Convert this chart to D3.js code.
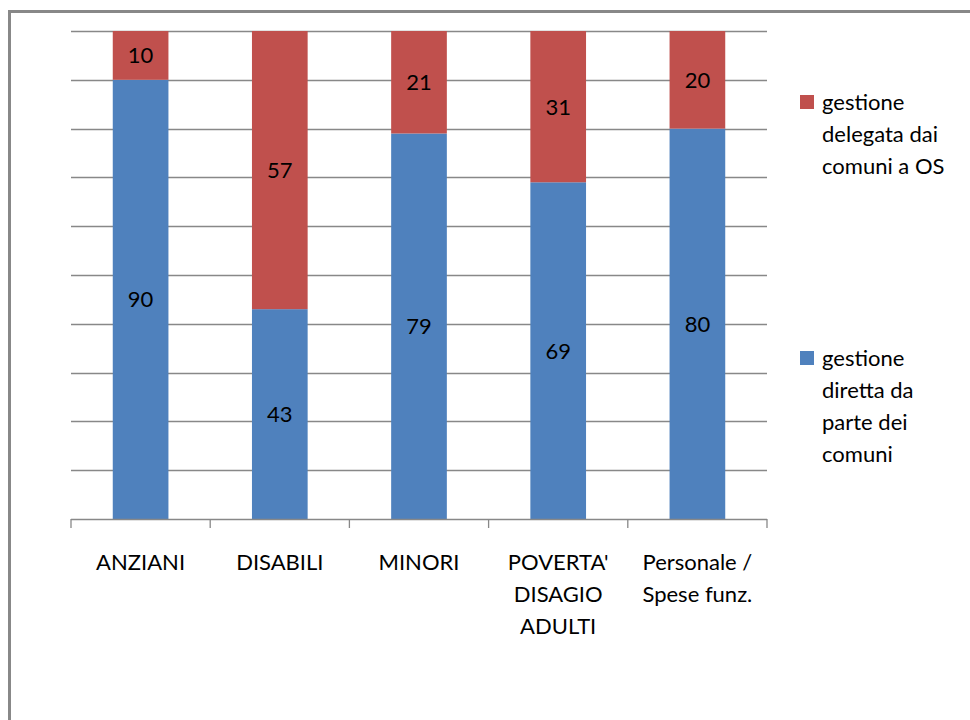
<!DOCTYPE html>
<html><head><meta charset="utf-8">
<script src="https://cdn.jsdelivr.net/npm/d3@7"></script>
<style>body{margin:0;background:#fff}svg{display:block}text{font-family:Lato,"Open Sans",sans-serif}</style>
</head><body><svg id="c" width="970" height="720"></svg>
<script>
const categories = [["ANZIANI"],["DISABILI"],["MINORI"],["POVERTA'","DISAGIO","ADULTI"],["Personale /","Spese funz."]];
const diretta = [90,43,79,69,80];
const delegata = [10,57,21,31,20];
const seriesNames = [["gestione","delegata dai","comuni a OS"],["gestione","diretta da","parte dei","comuni"]];
const colors = {delegata:"#C0504D", diretta:"#4F81BD"};

const svg = d3.select("#c");
// outer border
svg.append("path").attr("d","M9.5,720 V11.5 H970").attr("fill","none").attr("stroke","#888").attr("stroke-width",3);

const L=71,R=767,T=31,B=519;
const x = d3.scaleBand().domain(d3.range(categories.length)).range([L,R]).paddingInner(0.6).paddingOuter(0.3);
const xo = d3.scaleBand().domain(d3.range(categories.length)).range([L,R]);
const y = d3.scaleLinear().domain([0,100]).range([B,T]);

// gridlines
svg.append("g").selectAll("line").data(d3.range(10,101,10)).join("line")
  .attr("x1",L).attr("x2",R).attr("y1",d=>Math.round(y(d))+0.5).attr("y2",d=>Math.round(y(d))+0.5)
  .attr("stroke","#888").attr("stroke-width",1.3);

const data = categories.map((c,i)=>({i, diretta:diretta[i], delegata:delegata[i]}));
const stack = d3.stack().keys(["diretta","delegata"])(data);
const g = svg.append("g");
stack.forEach(s=>{
  g.selectAll(null).data(s).join("rect")
    .attr("x",d=>x(d.data.i)).attr("width",x.bandwidth())
    .attr("y",d=>y(d[1])).attr("height",d=>y(d[0])-y(d[1]))
    .attr("fill",colors[s.key]);
  g.selectAll(null).data(s).join("text")
    .attr("x",d=>x(d.data.i)+x.bandwidth()/2).attr("y",d=>(y(d[0])+y(d[1]))/2)
    .attr("dy","0.36em").attr("text-anchor","middle").attr("font-size",22).attr("fill","#000")
    .text(d=>d[1]-d[0]);
});

// x axis
svg.append("line").attr("x1",L).attr("x2",R).attr("y1",B+0.5).attr("y2",B+0.5).attr("stroke","#888").attr("stroke-width",1.3);
svg.append("g").selectAll("line").data(d3.range(categories.length+1)).join("line")
  .attr("x1",d=>d<categories.length?xo(d):R).attr("x2",d=>d<categories.length?xo(d):R)
  .attr("y1",B).attr("y2",B+9).attr("stroke","#888").attr("stroke-width",1.3);
categories.forEach((lines,i)=>{
  const t = svg.append("text").attr("text-anchor","middle").attr("font-size",22).attr("fill","#000");
  lines.forEach((ln,k)=>t.append("tspan").attr("x",xo(i)+xo.bandwidth()/2).attr("y",570+k*32).text(ln));
});

// legend
const leg = [{key:"delegata",y:95},{key:"diretta",y:351}];
leg.forEach((l,j)=>{
  svg.append("rect").attr("x",800).attr("y",l.y).attr("width",14).attr("height",14).attr("fill",colors[l.key]);
  const t = svg.append("text").attr("font-size",22).attr("fill","#000");
  seriesNames[j].forEach((ln,k)=>t.append("tspan").attr("x",822).attr("y",l.y+15+k*32).text(ln));
});
</script></body></html>
